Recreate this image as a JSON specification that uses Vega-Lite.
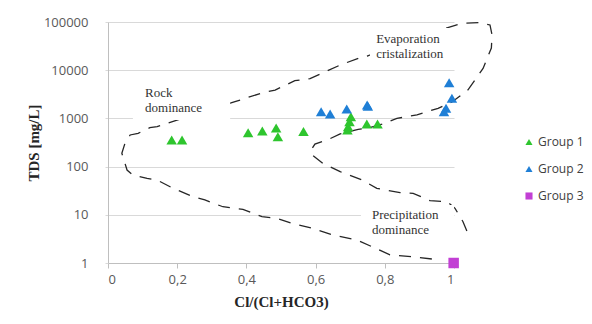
{
  "$schema": "https://vega.github.io/schema/vega-lite/v6.json",
  "width": 346,
  "height": 241,
  "autosize": {"type": "none"},
  "padding": {"left": 108, "top": 22, "right": 138, "bottom": 61},
  "background": "white",
  "config": {
    "view": {"stroke": null},
    "legend": {"title": null, "labelFont": "Open Sans", "labelFontSize": 12, "labelColor": "#404040", "symbolSize": 50, "rowPadding": 15, "labelOffset": 3, "symbolStrokeWidth": 0}
  },
  "datasets": {
    "boundary": [
      {"o": 1, "x": 0.936, "y": 1.21},
      {"o": 2, "x": 0.882, "y": 1.35},
      {"o": 3, "x": 0.815, "y": 1.47},
      {"o": 4, "x": 0.763, "y": 2.18},
      {"o": 5, "x": 0.72, "y": 3.0},
      {"o": 6, "x": 0.65, "y": 3.81},
      {"o": 7, "x": 0.59, "y": 5.25},
      {"o": 8, "x": 0.532, "y": 6.66},
      {"o": 9, "x": 0.488, "y": 8.46},
      {"o": 10, "x": 0.445, "y": 9.14},
      {"o": 11, "x": 0.39, "y": 13.0},
      {"o": 12, "x": 0.332, "y": 14.7},
      {"o": 13, "x": 0.28, "y": 20.3},
      {"o": 14, "x": 0.246, "y": 23.8},
      {"o": 15, "x": 0.188, "y": 35.5},
      {"o": 16, "x": 0.142, "y": 52.7},
      {"o": 17, "x": 0.113, "y": 57.2},
      {"o": 18, "x": 0.072, "y": 67},
      {"o": 19, "x": 0.055, "y": 85},
      {"o": 20, "x": 0.04, "y": 189},
      {"o": 21, "x": 0.049, "y": 304},
      {"o": 22, "x": 0.064, "y": 453},
      {"o": 23, "x": 0.087, "y": 491},
      {"o": 24, "x": 0.121, "y": 641},
      {"o": 25, "x": 0.142, "y": 673},
      {"o": 26, "x": 0.254, "y": 1234},
      {"o": 27, "x": 0.367, "y": 2220},
      {"o": 28, "x": 0.402, "y": 2690},
      {"o": 29, "x": 0.448, "y": 3410},
      {"o": 30, "x": 0.483, "y": 3880},
      {"o": 31, "x": 0.54, "y": 6050},
      {"o": 32, "x": 0.584, "y": 6660},
      {"o": 33, "x": 0.671, "y": 12800},
      {"o": 34, "x": 0.734, "y": 18800},
      {"o": 35, "x": 0.749, "y": 19700},
      {"o": 36, "x": 0.887, "y": 46600},
      {"o": 37, "x": 1.023, "y": 94000},
      {"o": 38, "x": 1.075, "y": 97700},
      {"o": 39, "x": 1.104, "y": 86700},
      {"o": 40, "x": 1.11, "y": 53700},
      {"o": 41, "x": 1.108, "y": 28900},
      {"o": 42, "x": 1.084, "y": 10900},
      {"o": 43, "x": 1.04, "y": 3880},
      {"o": 44, "x": 0.994, "y": 2190},
      {"o": 45, "x": 0.954, "y": 1620},
      {"o": 46, "x": 0.893, "y": 1180},
      {"o": 47, "x": 0.835, "y": 1000},
      {"o": 48, "x": 0.792, "y": 765},
      {"o": 49, "x": 0.749, "y": 623},
      {"o": 50, "x": 0.723, "y": 594},
      {"o": 51, "x": 0.671, "y": 475},
      {"o": 52, "x": 0.633, "y": 356},
      {"o": 53, "x": 0.598, "y": 294},
      {"o": 54, "x": 0.587, "y": 221},
      {"o": 55, "x": 0.59, "y": 174},
      {"o": 56, "x": 0.621, "y": 117},
      {"o": 57, "x": 0.671, "y": 78.4},
      {"o": 58, "x": 0.734, "y": 52.7},
      {"o": 59, "x": 0.777, "y": 35.5},
      {"o": 60, "x": 0.844, "y": 28.8},
      {"o": 61, "x": 0.882, "y": 27.9},
      {"o": 62, "x": 0.931, "y": 19.6},
      {"o": 63, "x": 0.98, "y": 18.7},
      {"o": 64, "x": 1.003, "y": 13.6},
      {"o": 65, "x": 1.026, "y": 7.19},
      {"o": 66, "x": 1.04, "y": 4.13},
      {"o": 67, "x": 1.04, "y": 3.22}
    ],
    "boxes": [
      {"x": 0.072, "x2": 0.353, "y": 926, "y2": 5690},
      {"x": 0.757, "x2": 0.988, "y": 14800, "y2": 75100},
      {"x": 0.731, "x2": 1.0, "y": 3.0, "y2": 16}
    ],
    "notes": [
      {"x": 0.107, "y": 4480, "label": "Rock\ndominance"},
      {"x": 0.775, "y": 59100, "label": "Evaporation\ncristalization"},
      {"x": 0.763, "y": 13.2, "label": "Precipitation\ndominance"}
    ],
    "samples": [
      {"group": "Group 1", "x": 0.184, "y": 356},
      {"group": "Group 1", "x": 0.214, "y": 356},
      {"group": "Group 1", "x": 0.405, "y": 505},
      {"group": "Group 1", "x": 0.446, "y": 548},
      {"group": "Group 1", "x": 0.486, "y": 630},
      {"group": "Group 1", "x": 0.491, "y": 417},
      {"group": "Group 1", "x": 0.565, "y": 535},
      {"group": "Group 1", "x": 0.702, "y": 1084},
      {"group": "Group 1", "x": 0.698, "y": 855},
      {"group": "Group 1", "x": 0.694, "y": 673},
      {"group": "Group 1", "x": 0.692, "y": 574},
      {"group": "Group 1", "x": 0.748, "y": 765},
      {"group": "Group 1", "x": 0.779, "y": 765},
      {"group": "Group 2", "x": 0.616, "y": 1377},
      {"group": "Group 2", "x": 0.642, "y": 1233},
      {"group": "Group 2", "x": 0.69, "y": 1567},
      {"group": "Group 2", "x": 0.749, "y": 1897},
      {"group": "Group 2", "x": 0.751, "y": 1780},
      {"group": "Group 2", "x": 0.986, "y": 5500},
      {"group": "Group 2", "x": 0.994, "y": 2613},
      {"group": "Group 2", "x": 0.977, "y": 1620},
      {"group": "Group 2", "x": 0.971, "y": 1377},
      {"group": "Group 3", "x": 0.999, "y": 1}
    ]
  },
  "encoding": {
    "x": {
      "field": "x", "type": "quantitative",
      "scale": {"domain": [0, 1], "nice": false, "zero": false},
      "axis": {
        "values": [0, 0.2, 0.4, 0.6, 0.8, 1],
        "labelExpr": "datum.value == 0 ? '0' : datum.value == 1 ? '1' : replace(format(datum.value, '.1f'), '.', ',')",
        "grid": false, "domainColor": "#bfbfbf", "tickColor": "#bfbfbf", "tickSize": 5,
        "labelFont": "Open Sans", "labelFontSize": 13, "labelColor": "#595959", "labelPadding": 5,
        "title": "Cl/(Cl+HCO3)", "titleFont": "Liberation Serif", "titleFontSize": 15, "titleFontWeight": "bold", "titleColor": "#262626", "titlePadding": 8
      }
    },
    "y": {
      "field": "y", "type": "quantitative",
      "scale": {"type": "log", "domain": [1, 100000], "nice": false},
      "axis": {
        "values": [1, 10, 100, 1000, 10000, 100000], "format": "d",
        "grid": true, "gridColor": "#d9d9d9", "domainColor": "#bfbfbf", "tickColor": "#d9d9d9", "tickSize": 3,
        "labelFont": "Open Sans", "labelFontSize": 13, "labelColor": "#595959", "labelPadding": 17,
        "title": "TDS [mg/L]", "titleFont": "Liberation Serif", "titleFontSize": 15, "titleFontWeight": "bold", "titleColor": "#262626", "titlePadding": 2
      }
    }
  },
  "layer": [
    {
      "data": {"name": "boundary"},
      "mark": {"type": "line", "clip": false, "color": "#262626", "strokeWidth": 1.3, "strokeDash": [12, 9]},
      "encoding": {"order": {"field": "o", "type": "quantitative"}}
    },
    {
      "data": {"name": "boxes"},
      "mark": {"type": "rect", "fill": "white", "strokeWidth": 0},
      "encoding": {"x2": {"field": "x2"}, "y2": {"field": "y2"}}
    },
    {
      "data": {"name": "notes"},
      "mark": {"type": "text", "align": "left", "baseline": "top", "lineBreak": "\n", "font": "Liberation Serif", "fontSize": 13, "color": "#333333", "lineHeight": 15},
      "encoding": {"text": {"field": "label"}}
    },
    {
      "data": {"name": "samples"},
      "mark": {"type": "point", "filled": true, "opacity": 1, "size": 110, "clip": false},
      "encoding": {
        "color": {"field": "group", "type": "nominal", "scale": {"domain": ["Group 1", "Group 2", "Group 3"], "range": ["#2ec52e", "#1f7fd6", "#c23fd4"]},
          "legend": {"orient": "none", "legendX": 415, "legendY": 114}},
        "shape": {"field": "group", "type": "nominal", "scale": {"domain": ["Group 1", "Group 2", "Group 3"], "range": ["triangle-up", "triangle-up", "square"]},
          "legend": {"orient": "none", "legendX": 415, "legendY": 114}}
      }
    }
  ]
}
